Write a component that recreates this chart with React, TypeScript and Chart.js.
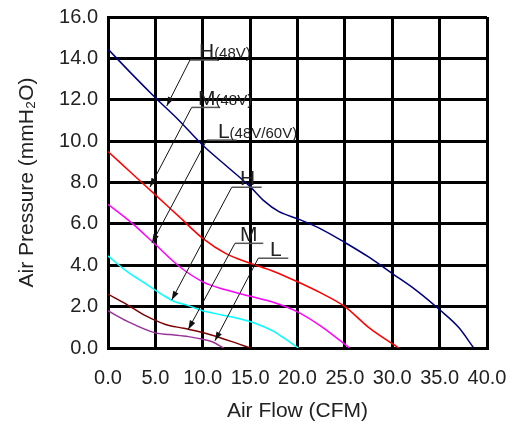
import { useEffect, useRef } from "react";
import { Chart, registerables } from "chart.js";

Chart.register(...registerables);

// Air flow (CFM) / air pressure (mmH2O) for each curve
const flowH48 = [0, 2.5, 5, 7.5, 10, 12.5, 15, 16.5, 18, 20, 22.5, 25, 27.5, 30, 32.5, 35, 37, 38.6];
const presH48 = [14.45, 13.25, 12.1, 11.0, 9.8, 8.8, 7.8, 7.1, 6.6, 6.25, 5.75, 5.1, 4.4, 3.6, 2.8, 1.85, 1.0, 0];

const flowM48 = [0, 2.5, 5, 7.5, 10, 12.5, 15, 17.5, 20, 22.5, 25, 27.5, 30.7];
const presM48 = [9.5, 8.45, 7.4, 6.35, 5.3, 4.55, 4.1, 3.7, 3.2, 2.65, 2.0, 1.0, 0];

const flowL48 = [0, 2.5, 5, 7.5, 10, 12.5, 15, 17.5, 20, 22.5, 25.5];
const presL48 = [6.95, 6.05, 5.0, 3.95, 3.2, 2.8, 2.5, 2.2, 1.75, 1.05, 0];

const flowH = [0, 2, 4, 6, 7, 8.5, 10, 12, 14, 15.5, 17.5, 18.5, 20.1];
const presH = [4.45, 3.7, 3.1, 2.5, 2.25, 2.05, 1.8, 1.6, 1.4, 1.2, 0.8, 0.5, 0];

const flowM = [0, 2, 4, 6, 8, 10, 11, 13, 15];
const presM = [2.6, 2.1, 1.55, 1.15, 0.95, 0.75, 0.62, 0.32, 0];

const flowL = [0, 2, 5, 6.5, 8.5, 10, 11, 12.2];
const presL = [1.8, 1.3, 0.73, 0.65, 0.55, 0.42, 0.3, 0];

const seriesFlows = [flowH48, flowM48, flowL48, flowH, flowM, flowL];
const seriesPres = [presH48, presM48, presL48, presH, presM, presL];
const seriesNames = ["H(48V)", "M(48V)", "L(48V/60V)", "H", "M", "L"];
const seriesColors = ["#000080", "#ff0000", "#ff00ff", "#00ffff", "#800000", "#993399"];

const xTicks = [0, 5, 10, 15, 20, 25, 30, 35, 40];
const yTicks = [0, 2, 4, 6, 8, 10, 12, 14, 16];

// Callout labels: main letter, small suffix, underline start/end flow, underline pressure,
// text start flow, arrow tip flow/pressure
const calloutMain = ["H", "M", "L", "H", "M", "L"];
const calloutSuffix = ["(48V)", "(48V)", "(48V/60V)", "", "", ""];
const calloutLineX1 = [8.65, 8.83, 10.42, 13.06, 13.4, 15.86];
const calloutLineX2 = [11.6, 11.82, 13.57, 16.22, 16.39, 19.03];
const calloutLineY = [13.92, 11.63, 10.05, 7.77, 5.06, 4.34];
const calloutTextX = [9.6, 9.5, 11.6, 13.93, 13.93, 17.1];
const calloutTipX = [6.2, 4.43, 4.64, 6.72, 8.47, 11.29];
const calloutTipY = [11.7, 7.78, 5.07, 2.32, 0.9, 0.35];

const FONT = "'Liberation Sans', Arial, Helvetica, sans-serif";
const TEXT_COLOR = "#222";

const calloutPlugin = {
  id: "callouts",
  afterDatasetsDraw(chart: any) {
    const ctx = chart.ctx;
    const xs = chart.scales.x;
    const ys = chart.scales.y;
    ctx.save();
    for (let i = 0; i < calloutMain.length; i++) {
      const x1 = xs.getPixelForValue(calloutLineX1[i]);
      const x2 = xs.getPixelForValue(calloutLineX2[i]);
      const y = ys.getPixelForValue(calloutLineY[i]);
      const tx = xs.getPixelForValue(calloutTextX[i]);
      const px = xs.getPixelForValue(calloutTipX[i]);
      const py = ys.getPixelForValue(calloutTipY[i]);

      // underline
      ctx.strokeStyle = "#555";
      ctx.lineWidth = 1.5;
      ctx.beginPath();
      ctx.moveTo(x1, y);
      ctx.lineTo(x2, y);
      ctx.stroke();

      // arrow line
      ctx.strokeStyle = "#111";
      ctx.lineWidth = 1;
      ctx.beginPath();
      ctx.moveTo(x1, y);
      ctx.lineTo(px, py);
      ctx.stroke();

      // arrow head
      const ang = Math.atan2(py - y, px - x1);
      const len = 9;
      const half = 3;
      ctx.fillStyle = "#111";
      ctx.beginPath();
      ctx.moveTo(px, py);
      ctx.lineTo(
        px - len * Math.cos(ang) + half * Math.sin(ang),
        py - len * Math.sin(ang) - half * Math.cos(ang)
      );
      ctx.lineTo(
        px - len * Math.cos(ang) - half * Math.sin(ang),
        py - len * Math.sin(ang) + half * Math.cos(ang)
      );
      ctx.closePath();
      ctx.fill();

      // text
      ctx.fillStyle = TEXT_COLOR;
      ctx.textBaseline = "alphabetic";
      ctx.textAlign = "left";
      ctx.font = `21px ${FONT}`;
      ctx.fillText(calloutMain[i], tx, y - 2);
      const w = ctx.measureText(calloutMain[i]).width;
      if (calloutSuffix[i]) {
        ctx.font = `15px ${FONT}`;
        ctx.fillText(calloutSuffix[i], tx + w, y - 2);
      }
    }
    ctx.restore();
  },
};

export default function App() {
  const canvasRef = useRef<HTMLCanvasElement | null>(null);

  useEffect(() => {
    document.body.style.margin = "0";
    const canvas = canvasRef.current;
    if (!canvas) return;
    const datasets = seriesNames.map((name, i) => ({
      label: name,
      data: seriesFlows[i].map((f, j) => ({ x: f, y: seriesPres[i][j] })),
      borderColor: seriesColors[i],
      backgroundColor: seriesColors[i],
      borderWidth: 1.5,
      pointRadius: 0,
      cubicInterpolationMode: "monotone" as const,
      fill: false,
    }));

    const chart = new Chart(canvas, {
      type: "line",
      data: { datasets },
      plugins: [calloutPlugin],
      options: {
        responsive: false,
        animation: false,
        layout: { padding: { left: 0, right: 26, top: 17, bottom: 0 } },
        plugins: {
          legend: { display: false },
          tooltip: { enabled: false },
          title: { display: false },
        },
        scales: {
          x: {
            type: "linear",
            min: 0,
            max: 40,
            afterBuildTicks: (scale: any) => {
              scale.ticks = xTicks.map((v) => ({ value: v }));
            },
            afterFit: (scale: any) => {
              scale.height = 77;
              scale.paddingLeft = 0;
              scale.paddingRight = 0;
            },
            ticks: {
              callback: (v: any) => Number(v).toFixed(1),
              font: { family: FONT, size: 20 },
              color: TEXT_COLOR,
              padding: 18,
              maxRotation: 0,
              autoSkip: false,
            },
            grid: { color: "#000", lineWidth: 3, drawTicks: false },
            border: { color: "#000", width: 3 },
            title: {
              display: true,
              text: "Air Flow (CFM)",
              font: { family: FONT, size: 21 },
              color: TEXT_COLOR,
              padding: { top: 0, bottom: 1 },
            },
          },
          y: {
            type: "linear",
            min: 0,
            max: 16,
            afterBuildTicks: (scale: any) => {
              scale.ticks = yTicks.map((v) => ({ value: v }));
            },
            afterFit: (scale: any) => {
              scale.width = 108;
              scale.paddingTop = 0;
              scale.paddingBottom = 0;
            },
            ticks: {
              callback: (v: any) => Number(v).toFixed(1),
              font: { family: FONT, size: 20 },
              color: TEXT_COLOR,
              padding: 10,
              autoSkip: false,
            },
            grid: { color: "#000", lineWidth: 3, drawTicks: false },
            border: { color: "#000", width: 3 },
            title: {
              display: true,
              text: "Air Pressure (mmH\u2082O)",
              font: { family: FONT, size: 21 },
              color: TEXT_COLOR,
              padding: { top: 15, bottom: 0 },
            },
          },
        },
      },
    });
    return () => chart.destroy();
  }, []);

  return (
    <div style={{ width: 513, height: 425 }}>
      <canvas ref={canvasRef} width={513} height={425} style={{ display: "block" }} />
    </div>
  );
}
